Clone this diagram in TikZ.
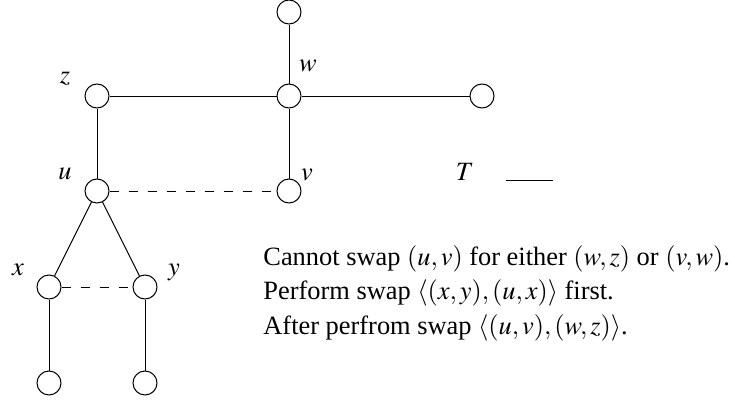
\documentclass[tikz,border=0pt]{standalone}
\usepackage{mathptmx}
\usepackage[no-math]{fontspec}
\setmainfont{Liberation Serif}
\usetikzlibrary{positioning}

\begin{document}
\begin{tikzpicture}[x=0.5pt, y=-0.5pt,
      vtx/.style={circle, draw, line width=0.5pt, minimum size=12pt, inner sep=0pt},
      tedge/.style={line width=0.5pt},
      nonedge/.style={line width=0.5pt, dash pattern=on 4.5pt off 5pt},
      lbl/.style={font=\fontsize{13.2}{16}\selectfont, inner sep=0pt},
      txt/.style={font=\fontsize{13.2}{16}\selectfont, inner sep=0pt, anchor=base west}]
   \useasboundingbox (0,0) rectangle (735,402);
   % Vertices
   \node[vtx] (top) at (289,12) {};
   \node[vtx] (w) at (289,96) {};
   \node[vtx] (z) at (97,96) {};
   \node[vtx] (r) at (482,96) {};
   \node[vtx] (u) at (97,191) {};
   \node[vtx] (v) at (289,191) {};
   \node[vtx] (x) at (49,287) {};
   \node[vtx] (y) at (145,287) {};
   \node[vtx] (xb) at (49,383) {};
   \node[vtx] (yb) at (145,383) {};
   % Vertex labels
   \node[lbl] (lz) at (65,79) {$z$};
   \node[lbl] (lw) at (308,66) {$w$};
   \node[lbl] (lu) at (65,174) {$u$};
   \node[lbl] (lv) at (307,175) {$v$};
   \node[lbl] (lx) at (18,270) {$x$};
   \node[lbl] (ly) at (174,272) {$y$};
   % Tree edges
   \draw[tedge] (top) -- (w);
   \draw[tedge] (z) -- (w);
   \draw[tedge] (w) -- (r);
   \draw[tedge] (z) -- (u);
   \draw[tedge] (w) -- (v);
   \draw[tedge] (u) -- (x);
   \draw[tedge] (u) -- (y);
   \draw[tedge] (x) -- (xb);
   \draw[tedge] (y) -- (yb);
   % Non-tree edges
   \draw[nonedge] (u) -- (v);
   \draw[nonedge] (x) -- (y);
   % Legend
   \node[lbl] (lT) at (465,172) {$T$};
   \coordinate (ts) at (506,180);
   \coordinate (te) at (553,180);
   \draw[tedge] (ts) -- (te);
   % Explanation
   \node[txt] (t1) at (263,265) {Cannot swap $(u,v)$ for either $(w,z)$ or $(v,w)$.};
   \node[txt] (t2) at (263,299) {Perform swap $\langle(x,y),(u,x)\rangle$ first.};
   \node[txt] (t3) at (263,334) {After perfrom swap $\langle(u,v),(w,z)\rangle$.};
\end{tikzpicture}
\end{document}
